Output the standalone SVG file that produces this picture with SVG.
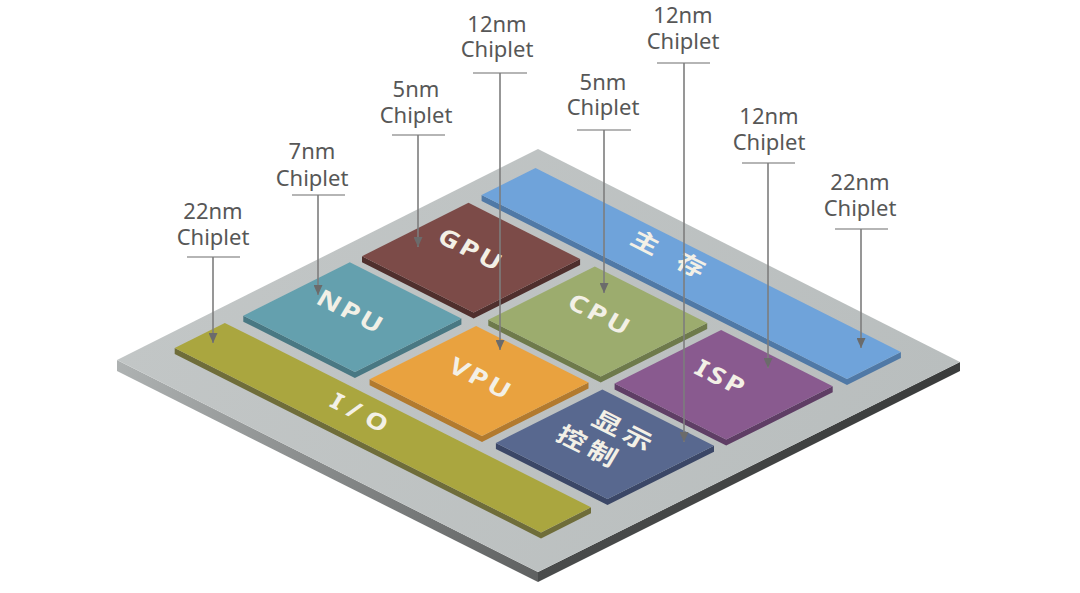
<svg xmlns="http://www.w3.org/2000/svg" width="1080" height="593" viewBox="0 0 1080 593">
  <defs>
    <linearGradient id="gLeft" x1="117" y1="365" x2="538" y2="577" gradientUnits="userSpaceOnUse">
      <stop offset="0" stop-color="#aeb2b2"/>
      <stop offset="1" stop-color="#5f6161"/>
    </linearGradient>
    <linearGradient id="gRight" x1="538" y1="577" x2="960" y2="366" gradientUnits="userSpaceOnUse">
      <stop offset="0" stop-color="#4a4c4c"/>
      <stop offset="1" stop-color="#3a3c3c"/>
    </linearGradient>
    <linearGradient id="gTop" x1="117" y1="149" x2="960" y2="572" gradientUnits="userSpaceOnUse">
      <stop offset="0" stop-color="#c3c7c7"/>
      <stop offset="1" stop-color="#b8bdbd"/>
    </linearGradient>
    <marker id="arr" viewBox="0 0 10 9" refX="10" refY="4.5" markerWidth="10" markerHeight="9" markerUnits="userSpaceOnUse" orient="auto">
      <path d="M0,0 L10,4.5 L0,9 z" fill="#6b6b6b"/>
    </marker>
  </defs>
  <style>
    .lbl { font-family: "Noto Sans", "Open Sans", sans-serif; font-size: 22px; fill: #575757; text-anchor: middle; }
    .chip { font-family: "Noto Sans", "Open Sans", sans-serif; font-size: 29px; font-weight: bold; fill: #f3f0e6; text-anchor: middle; letter-spacing: 3px; }
    .cjk { font-family: "Noto Sans CJK SC", "Noto Sans", sans-serif; font-size: 29px; font-weight: bold; fill: #f3f0e6; text-anchor: middle; }
    .lead { stroke: #7d7d7d; stroke-width: 1.6; fill: none; }
    .ul { stroke: #9c9c9c; stroke-width: 1.6; fill: none; }
  </style>
  <rect width="1080" height="593" fill="#ffffff"/>

  <g id="substrate">
    <polygon points="117,360 538,572 538,582 117,371" fill="url(#gLeft)"/>
    <polygon points="538,572 960,362 960,371 538,582" fill="url(#gRight)"/>
    <polygon points="117,360 538,149 960,362 538,572" fill="url(#gTop)"/>
  </g>

  <g id="io">
    <polygon points="174.7,348 541,532.4 591,507.3 591,513.3 541,538.4 174.7,354" fill="#6f6d3a"/>
    <polygon points="174.7,348 224.8,322.9 591,507.3 541,532.4" fill="#aaa63f"/>
    <text class="chip" style="letter-spacing:8px;font-size:28px" transform="matrix(0.893 0.450 -0.42 0.70 359.5 412.5)" x="4" y="10">I/O</text>
  </g>

  <g id="npu">
    <polygon points="243.3,315.7 354.9,371.9 461.4,318.5 461.4,324.5 354.9,377.9 243.3,321.7" fill="#497883"/>
    <polygon points="243.3,315.7 349.8,262.3 461.4,318.5 354.9,371.9" fill="#64a0ae"/>
    <text class="chip" transform="matrix(0.893 0.450 -0.42 0.70 350 311)" x="1.5" y="10.4">NPU</text>
  </g>

  <g id="gpu">
    <polygon points="362,256.2 473.6,312.4 580.1,259 580.1,265 473.6,318.4 362,262.2" fill="#4f2f2d"/>
    <polygon points="362,256.2 468.5,202.8 580.1,259 473.6,312.4" fill="#7c4b48"/>
    <text class="chip" transform="matrix(0.893 0.450 -0.42 0.70 470 249)" x="1.5" y="10.4">GPU</text>
  </g>

  <g id="mem">
    <polygon points="481.6,195 847,379 900.9,352 900.9,358 847,385 481.6,201" fill="#5079a6"/>
    <polygon points="481.6,195 535.5,168 900.9,352 847,379" fill="#6fa3da"/>
    <text class="cjk" style="font-size:28px" transform="matrix(0.893 0.450 -0.42 0.70 668.5 253.5)" y="10.5"><tspan x="-25.5">主</tspan><tspan x="25.5">存</tspan></text>
  </g>

  <g id="vpu">
    <polygon points="369.6,379.3 482,435.9 588.5,382.5 588.5,388.5 482,441.9 369.6,385.3" fill="#b27a2e"/>
    <polygon points="369.6,379.3 476.1,325.9 588.5,382.5 482,435.9" fill="#e9a23f"/>
    <text class="chip" transform="matrix(0.893 0.450 -0.42 0.70 480 378)" x="1.5" y="10.4">VPU</text>
  </g>

  <g id="cpu">
    <polygon points="488.3,319.8 600.7,376.4 707.2,323 707.2,329 600.7,382.4 488.3,325.8" fill="#6e7a4b"/>
    <polygon points="488.3,319.8 594.8,266.4 707.2,323 600.7,376.4" fill="#9cac6e"/>
    <text class="chip" transform="matrix(0.893 0.450 -0.42 0.70 599 314)" x="1.5" y="10.4">CPU</text>
  </g>

  <g id="display">
    <polygon points="495.9,442.9 607.5,499.1 714,445.7 714,451.7 607.5,505.1 495.9,448.9" fill="#3b4767"/>
    <polygon points="495.9,442.9 602.4,389.5 714,445.7 607.5,499.1" fill="#58688f"/>
    <text class="cjk" style="letter-spacing:5px" transform="matrix(0.893 0.450 -0.42 0.70 605 438)"><tspan x="13.8" y="-7.2">显示</tspan><tspan x="-8.8" y="29.2">控制</tspan></text>
  </g>

  <g id="isp">
    <polygon points="614.6,383.4 726.2,439.6 832.7,386.2 832.7,392.2 726.2,445.6 614.6,389.4" fill="#5f3e65"/>
    <polygon points="614.6,383.4 721.1,330 832.7,386.2 726.2,439.6" fill="#895a8f"/>
    <text class="chip" transform="matrix(0.893 0.450 -0.42 0.70 720 377)" x="1.5" y="10.4">ISP</text>
  </g>

  <g id="labels">
    <text class="lbl" x="213" y="219">22nm</text><text class="lbl" x="213" y="245">Chiplet</text>
    <text class="lbl" x="312" y="159">7nm</text><text class="lbl" x="312" y="186">Chiplet</text>
    <text class="lbl" x="416" y="97">5nm</text><text class="lbl" x="416" y="123">Chiplet</text>
    <text class="lbl" x="497" y="32">12nm</text><text class="lbl" x="497" y="57">Chiplet</text>
    <text class="lbl" x="603" y="90">5nm</text><text class="lbl" x="603" y="115">Chiplet</text>
    <text class="lbl" x="683" y="23">12nm</text><text class="lbl" x="683" y="49">Chiplet</text>
    <text class="lbl" x="769" y="124">12nm</text><text class="lbl" x="769" y="150">Chiplet</text>
    <text class="lbl" x="860" y="190">22nm</text><text class="lbl" x="860" y="216">Chiplet</text>
  </g>

  <g id="connectors">
    <line class="ul" x1="187" y1="257" x2="240" y2="257"/>
    <line class="lead" x1="213" y1="257" x2="213" y2="343" marker-end="url(#arr)"/>
    <line class="ul" x1="292" y1="195" x2="345" y2="195"/>
    <line class="lead" x1="318" y1="195" x2="318" y2="295" marker-end="url(#arr)"/>
    <line class="ul" x1="392" y1="135" x2="445" y2="135"/>
    <line class="lead" x1="418" y1="135" x2="418" y2="247" marker-end="url(#arr)"/>
    <line class="ul" x1="473" y1="73" x2="527" y2="73"/>
    <line class="lead" x1="500" y1="73" x2="500" y2="350" marker-end="url(#arr)"/>
    <line class="ul" x1="577" y1="130" x2="631" y2="130"/>
    <line class="lead" x1="604" y1="130" x2="604" y2="293" marker-end="url(#arr)"/>
    <line class="ul" x1="657" y1="63" x2="710" y2="63"/>
    <line class="lead" x1="684" y1="63" x2="684" y2="442" marker-end="url(#arr)"/>
    <line class="ul" x1="742" y1="163" x2="795" y2="163"/>
    <line class="lead" x1="768" y1="163" x2="768" y2="368" marker-end="url(#arr)"/>
    <line class="ul" x1="835" y1="229" x2="888" y2="229"/>
    <line class="lead" x1="861" y1="229" x2="861" y2="348" marker-end="url(#arr)"/>
  </g>
</svg>
